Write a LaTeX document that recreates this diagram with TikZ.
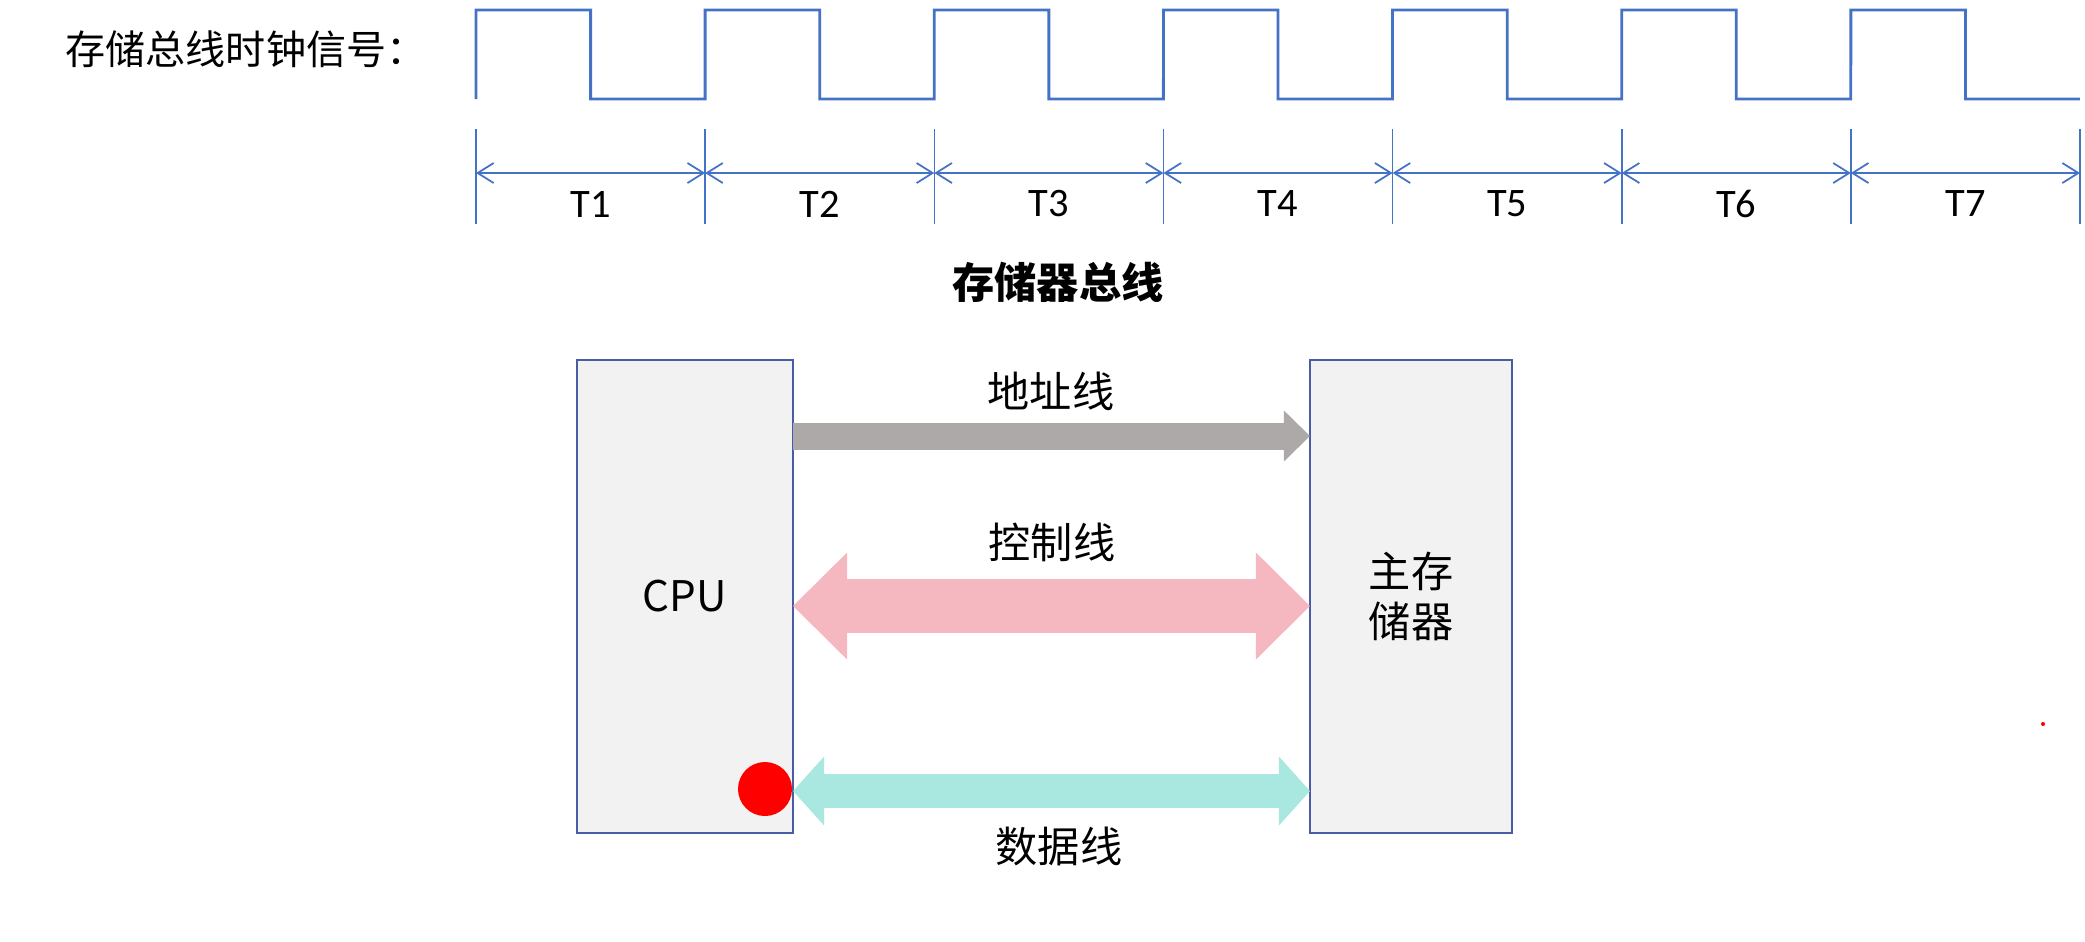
\documentclass[tikz,border=0pt]{standalone}
\usepackage{fontspec}
\setmainfont{Noto Sans CJK SC}
\newfontfamily\tfont{Carlito}
\usetikzlibrary{arrows.meta}
\definecolor{clkblue}{HTML}{4472C4}
\definecolor{boxgray}{HTML}{F2F2F2}
\definecolor{boxline}{HTML}{4A5CA8}
\definecolor{addrgray}{HTML}{ADA9A9}
\definecolor{ctrlpink}{HTML}{F5B8C0}
\definecolor{datacyan}{HTML}{A9E8E1}

\begin{document}
\begin{tikzpicture}[x=0.01cm,y=-0.01cm]
		\useasboundingbox (0,0) rectangle (2085,941);

		% clock signal
		\node (clklabel) at (246,49) {\fontsize{11.4}{13}\selectfont 存储总线时钟信号：};
		\draw[clkblue,line width=0.8pt] (476,99)
		    \foreach \k in {0,...,6} {
		        -- ({476+229.14*\k},10) -- ({590.6+229.14*\k},10)
		        -- ({590.6+229.14*\k},99) -- ({705.1+229.14*\k},99)
		    };

		% periods T1..T7
		\foreach \k in {0,...,7} {
		    \coordinate (t\k) at ({476+229.14*\k},129);
		    \coordinate (b\k) at ({476+229.14*\k},224);
		    \coordinate (a\k) at ({476+229.14*\k},173);
		    \draw[clkblue,line width=0.45pt] (t\k) -- (b\k);
		}
		\begin{scope}[>={Straight Barb[length=1.6mm,width=2mm]},
		              every node/.style={font=\tfont\fontsize{11.5}{13}\selectfont}]
		    \foreach \k [evaluate=\k as \n using int(\k+1)] in {0,...,6} {
		        \draw[clkblue,line width=0.5pt,<->] (a\k) -- (a\n);
		        \node (T\n) at ({590.6+229.14*\k},204) {T\n};
		    }
		\end{scope}

		% bus
		\node (title) at (1058,282) {\fontsize{12}{14}\selectfont\bfseries 存储器总线};
		\begin{scope}[every node/.style={draw=boxline,fill=boxgray,line width=0.5pt,
		              outer sep=0pt,minimum height=4.73cm,align=center,
		              font=\fontsize{12}{14}\selectfont}]
		    \node[minimum width=2.16cm] (cpu) at (685,596.5) {CPU};
		    \node[minimum width=2.02cm] (mem) at (1411,596.5) {主存\\[0pt]储器};
		\end{scope}

		\begin{scope}[every node/.style={font=\fontsize{12}{14}\selectfont}]
		    \draw[addrgray,line width=0.27cm,
		          -{Triangle[length=0.26cm,width=0.51cm,line width=0pt]}]
		        (cpu.east |- 0,436) -- (mem.west |- 0,436);
		    \node (addr) at (1051,391) {地址线};
		    \draw[ctrlpink,line width=0.54cm,
		          {Triangle[length=0.54cm,width=1.07cm,line width=0pt]}-{Triangle[length=0.54cm,width=1.07cm,line width=0pt]}]
		        (cpu.east |- 0,606) -- (mem.west |- 0,606);
		    \node (ctrl) at (1052,542) {控制线};
		    \draw[datacyan,line width=0.34cm,
		          {Triangle[length=0.31cm,width=0.69cm,line width=0pt]}-{Triangle[length=0.31cm,width=0.69cm,line width=0pt]}]
		        (cpu.east |- 0,791) -- (mem.west |- 0,791);
		    \node (data) at (1059,846) {数据线};
		\end{scope}

		% pointer marks
		\node[circle,fill=red,inner sep=0pt,minimum size=0.54cm] (dot) at (765,789) {};
		\node[circle,fill=red,inner sep=0pt,minimum size=0.04cm] (spot) at (2043,724) {};
\end{tikzpicture}
\end{document}
